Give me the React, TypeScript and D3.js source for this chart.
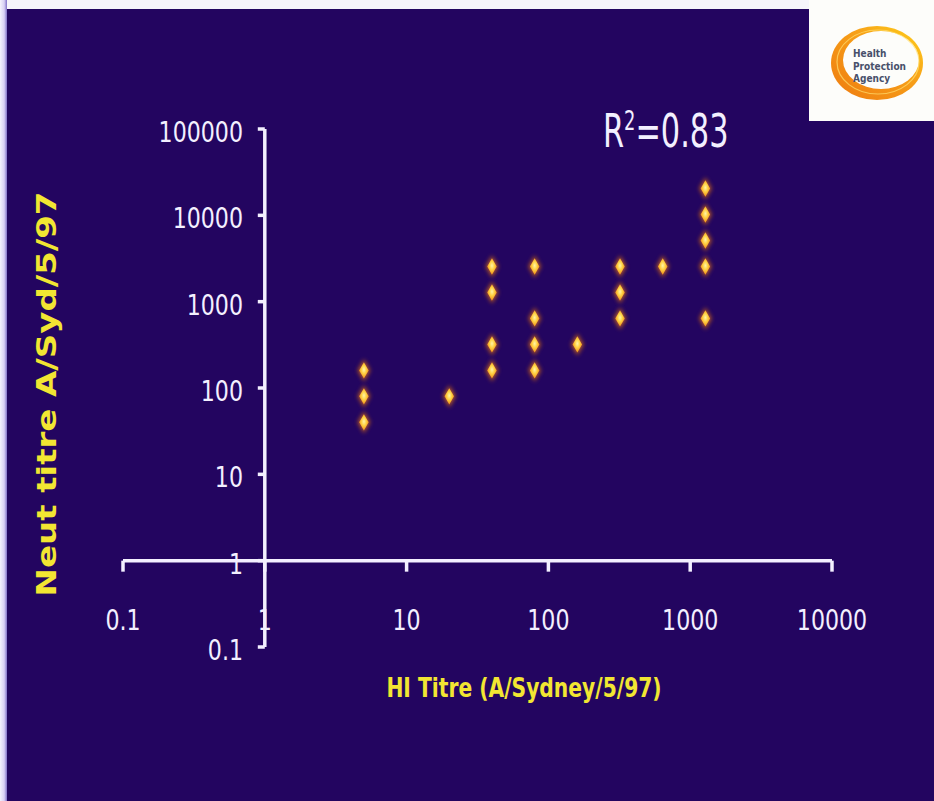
import React from 'react';
import * as d3 from 'd3';

const xTickValues = [0.1, 1, 10, 100, 1000, 10000];
const xTickLabels = ['0.1', '1', '10', '100', '1000', '10000'];
const yTickValues = [0.1, 1, 10, 100, 1000, 10000, 100000];
const yTickLabels = ['0.1', '1', '10', '100', '1000', '10000', '100000'];

const hiTitre = [5, 5, 5, 20, 40, 40, 40, 40, 80, 80, 80, 80, 160, 320, 320, 320, 640, 1280, 1280, 1280, 1280, 1280];
const neutTitre = [160, 80, 40, 80, 2560, 1280, 320, 160, 2560, 640, 320, 160, 320, 2560, 1280, 640, 2560, 20480, 10240, 5120, 2560, 640];

const rSquaredValue = '0.83';
const xTitle = 'HI Titre (A/Sydney/5/97)';
const yTitle = 'Neut titre A/Syd/5/97';
const logoLines = ['Health', 'Protection', 'Agency'];

export default function App() {
  const W = 934;
  const H = 801;
  const x = d3.scaleLog().domain([0.1, 10000]).range([123, 832]);
  const y = d3.scaleLog().domain([0.1, 100000]).range([647, 129]);
  const x0 = x(1);
  const y0 = y(1);
  const diamondGlow = d3.symbol().type(d3.symbolDiamond).size(140)() as string;
  const diamond = d3.symbol().type(d3.symbolDiamond).size(78)() as string;
  const axisColor = '#f3f0ff';
  const font = '"DejaVu Sans", Verdana, sans-serif';

  return (
    <svg width={W} height={H} viewBox={`0 0 ${W} ${H}`} style={{ position: 'fixed', left: 0, top: 0, display: 'block' }}>
      <defs>
        <radialGradient id="pt" cx="50%" cy="45%" r="55%">
          <stop offset="0%" stopColor="#fff4a8" />
          <stop offset="45%" stopColor="#ffd244" />
          <stop offset="100%" stopColor="#f08a18" />
        </radialGradient>
        <filter id="glow" x="-100%" y="-100%" width="300%" height="300%">
          <feGaussianBlur stdDeviation="2" />
        </filter>
        <filter id="soft" x="-50%" y="-50%" width="200%" height="200%">
          <feGaussianBlur stdDeviation="0.6" />
        </filter>
        <linearGradient id="leftStrip" x1="0" x2="1" y1="0" y2="0">
          <stop offset="0%" stopColor="#f4f2fc" />
          <stop offset="60%" stopColor="#d8d0f4" />
          <stop offset="100%" stopColor="#8070c8" />
        </linearGradient>
        <linearGradient id="ring" x1="1" y1="0" x2="0" y2="1">
          <stop offset="0%" stopColor="#ffd21a" />
          <stop offset="40%" stopColor="#f7a018" />
          <stop offset="100%" stopColor="#ee7a10" />
        </linearGradient>
      </defs>

      <rect x={0} y={0} width={W} height={H} fill="#230560" />
      <rect x={0} y={0} width={W} height={9} fill="#f6f4fb" />
      <rect x={0} y={0} width={7} height={H} fill="url(#leftStrip)" />

      {/* logo */}
      <g>
        <rect x={809} y={0} width={125} height={121} fill="#fdfdfa" />
        <ellipse cx={877} cy={63} rx={46} ry={37} fill="url(#ring)" />
        <ellipse cx={881} cy={60} rx={38} ry={29} fill="#fdfdfa" />
        <ellipse cx={878} cy={62} rx={41} ry={32} fill="none" stroke="#ffe070" strokeWidth={1.2} opacity={0.7} />
        {logoLines.map((t, i) => (
          <text key={t} transform={`translate(853,${57 + i * 12.5}) scale(0.82,1)`} fontFamily={font} fontWeight="bold"
            fontSize={11} fill="#48506a">{t}</text>
        ))}
      </g>

      {/* y axis */}
      <line x1={x0} x2={x0} y1={y(100000)} y2={y(0.1)} stroke={axisColor} strokeWidth={3.5} />
      {yTickValues.map((v) => (
        <line key={'yt' + v} x1={x0 - 7} x2={x0} y1={y(v)} y2={y(v)} stroke={axisColor} strokeWidth={3.5} />
      ))}
      {/* x axis */}
      <line x1={x(0.1)} x2={x(10000)} y1={y0} y2={y0} stroke={axisColor} strokeWidth={3.5} />
      {xTickValues.map((v) => (
        <line key={'xt' + v} x1={x(v)} x2={x(v)} y1={y0} y2={y0 + 11} stroke={axisColor} strokeWidth={3.5} />
      ))}

      {yTickLabels.map((t, i) => (
        <text key={'yl' + t} transform={`translate(243,${y(yTickValues[i]) + 13}) scale(0.79,1)`} textAnchor="end"
          fontFamily={font} fontSize={28} fill={axisColor}>{t}</text>
      ))}
      {xTickLabels.map((t, i) => (
        <text key={'xl' + t} transform={`translate(${x(xTickValues[i])},630) scale(0.79,1)`} textAnchor="middle"
          fontFamily={font} fontSize={28} fill={axisColor}>{t}</text>
      ))}

      {/* points */}
      {hiTitre.map((h, i) => (
        <g key={'p' + i} transform={`translate(${x(h)},${y(neutTitre[i])})`}>
          <path d={diamondGlow} fill="#f07a10" opacity={0.7} filter="url(#glow)" />
          <path d={diamond} fill="url(#pt)" filter="url(#soft)" />
        </g>
      ))}

      {/* R squared */}
      <text transform="translate(603,147) scale(0.66,1)" fontFamily={font} fontSize={46} fill={axisColor}>
        R<tspan fontSize={27} dy={-17}>2</tspan><tspan dy={17}>={rSquaredValue}</tspan>
      </text>

      {/* titles */}
      <text transform="translate(524,697) scale(0.78,1)" textAnchor="middle" fontFamily={font} fontWeight="bold"
        fontSize={26} fill="#f2e632">{xTitle}</text>
      <text transform="translate(56,394) rotate(-90) scale(1,0.77)" textAnchor="middle" fontFamily={font} fontWeight="bold"
        fontSize={34} fill="#f2e632">{yTitle}</text>
    </svg>
  );
}
